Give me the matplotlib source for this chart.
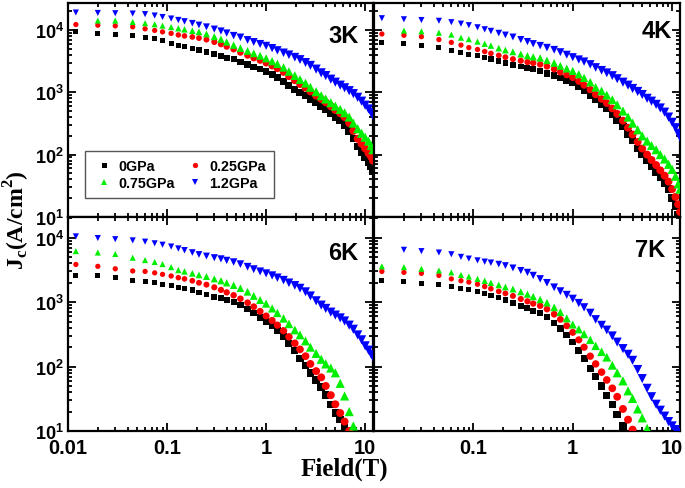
import numpy as np
import matplotlib
matplotlib.use("Agg")
import matplotlib.pyplot as plt
from matplotlib.ticker import LogLocator, FuncFormatter, NullFormatter
from matplotlib.lines import Line2D

plt.rcParams['mathtext.fontset'] = 'custom'
plt.rcParams['mathtext.rm'] = 'Liberation Serif:bold'
plt.rcParams['mathtext.bf'] = 'Liberation Sans:bold'
plt.rcParams['font.family'] = ['Liberation Sans', 'DejaVu Sans']

nan = np.nan

# Magnetic field (T) grid
field = [0.012, 0.02, 0.03, 0.045, 0.06, 0.075, 0.09, 0.11, 0.13, 0.15, 0.18, 0.21, 0.25, 0.3, 0.35,
         0.4, 0.47, 0.55, 0.65, 0.75, 0.87, 1.0, 1.15, 1.3, 1.5, 1.7, 1.95, 2.2, 2.5, 2.8, 3.2, 3.6,
         4.0, 4.5, 5.0, 5.6, 6.2, 6.9, 7.6, 8.4, 9.2, 10.0, 10.8, 11.5, 12.0]

temps = ['3K', '4K', '6K', '7K']
pressures = ['0GPa', '0.25GPa', '0.75GPa', '1.2GPa']

# ---- 3K ----
jc_3K_0GPa = [9300, 8600, 8300, 8200, 7600, 7200, 6700, 6100, 5700, 5400, 5000, 4750, 4450, 4100, 3800,
              3600, 3400, 3100, 2800, 2550, 2350, 2150, 1900, 1700, 1500, 1280, 1120, 1000, 880, 780, 680, 600,
              530, 460, 400, 360, 300, 240, 180, 135, 110, 90, 75, 64, 55]
jc_3K_025GPa = [12200, 11900, 11600, 11200, 10400, 9800, 9300, 8800, 8300, 8000, 7700, 7400, 7000, 6400, 5900,
                5400, 4900, 4350, 3900, 3550, 3250, 2950, 2650, 2400, 2100, 1800, 1550, 1350, 1180, 1030, 880, 780,
                690, 600, 520, 460, 400, 320, 240, 180, 150, 125, 105, 92, 80]
jc_3K_075GPa = [nan, 14100, 14100, 13400, 12800, 12300, 11700, 11100, 10600, 10200, 9700, 9300, 8600, 7800, 7100,
                6400, 5700, 5100, 4600, 4200, 3850, 3500, 3150, 2850, 2500, 2150, 1850, 1600, 1400, 1200, 1020, 880,
                780, 680, 600, 530, 470, 400, 320, 260, 220, 190, 165, 140, 120]
jc_3K_12GPa = [19000, 18700, 18500, 18300, 17900, 17000, 16100, 15200, 14400, 13700, 12800, 12000, 11200, 10300, 9600,
               8900, 8100, 7600, 6900, 6400, 5950, 5550, 5100, 4700, 4300, 4000, 3650, 3350, 3000, 2700, 2350, 2050,
               1850, 1620, 1450, 1300, 1180, 1060, 950, 830, 720, 620, 540, 470, 420]

# ---- 4K ----
jc_4K_0GPa = [6300, 6000, 5700, 5250, 4700, 4400, 4100, 3850, 3600, 3400, 3150, 2950, 2720, 2580, 2450,
              2320, 2200, 2000, 1850, 1700, 1560, 1440, 1250, 1080, 900, 760, 650, 560, 450, 360, 280, 215,
              170, 125, 100, 80, 65, 52, 43, 35, 28, 20, 15, 11, 9]
jc_4K_025GPa = [8600, 8200, 7800, 7000, 6300, 5700, 5200, 4850, 4500, 4200, 3900, 3650, 3400, 3200, 3050,
                2950, 2800, 2600, 2350, 2100, 1900, 1720, 1500, 1300, 1100, 920, 780, 670, 550, 450, 350, 270,
                210, 160, 125, 100, 82, 68, 56, 46, 37, 28, 21, 16, 12]
jc_4K_075GPa = [nan, 9750, 9500, 9000, 8400, 7500, 7100, 6500, 6000, 5600, 5100, 4750, 4450, 4100, 3850,
                3700, 3550, 3250, 2950, 2650, 2400, 2200, 1950, 1700, 1450, 1200, 1050, 900, 760, 630, 500, 400,
                320, 250, 200, 165, 140, 120, 100, 85, 70, 58, 45, 34, 28]
jc_4K_12GPa = [15400, 14800, 14400, 14000, 13300, 12600, 11900, 11000, 10200, 9600, 8900, 8300, 7700, 7000, 6500,
               6000, 5600, 5200, 4800, 4400, 4000, 3650, 3350, 3100, 2800, 2500, 2250, 2050, 1850, 1650, 1450, 1300,
               1150, 1030, 920, 800, 720, 640, 560, 480, 400, 330, 270, 220, 190]

# ---- 6K ----
jc_6K_0GPa = [2600, 2550, 2400, 2200, 2130, 2030, 1900, 1800, 1700, 1620, 1550, 1420, 1310, 1220, 1150,
              1080, 1000, 900, 780, 680, 580, 500, 430, 360, 290, 230, 180, 135, 105, 80, 62, 48,
              36, 26, 19, 15, 12, 9.5, nan, nan, nan, nan, nan, nan, nan]
jc_6K_025GPa = [3850, 3600, 3300, 3050, 3000, 2850, 2700, 2550, 2400, 2300, 2150, 2000, 1870, 1700, 1550,
                1420, 1280, 1130, 980, 850, 720, 610, 520, 440, 360, 290, 230, 185, 145, 110, 85, 68,
                50, 36, 26, 19, 14, 10, nan, nan, nan, nan, nan, nan, nan]
jc_6K_075GPa = [6200, 5900, 5600, 4900, 4500, 4200, 3900, 3500, 3150, 3000, 2800, 2650, 2500, 2300, 2150,
                2000, 1830, 1650, 1450, 1250, 1080, 950, 800, 680, 560, 460, 370, 310, 250, 200, 160, 130,
                110, 95, 80, 55, 35, 20, 12, 8, nan, nan, nan, nan, nan]
jc_6K_12GPa = [10500, 9900, 9500, 9100, 8700, 8200, 7800, 7300, 6800, 6400, 5900, 5500, 5200, 4900, 4700,
               4450, 4200, 3900, 3550, 3250, 3000, 2800, 2600, 2400, 2200, 2000, 1820, 1650, 1450, 1250, 1050, 900,
               800, 700, 630, 570, 510, 440, 380, 310, 260, 210, 180, 155, 140]

# ---- 7K ----
jc_7K_0GPa = [2200, 2100, 1980, 1850, 1750, 1650, 1560, 1480, 1370, 1270, 1170, 1080, 980, 880, 800,
              740, 680, 590, 480, 390, 310, 240, 180, 135, 95, 70, 50, 36, 26, 18, 12, 9,
              nan, nan, nan, nan, nan, nan, nan, nan, nan, nan, nan, nan, nan]
jc_7K_025GPa = [3000, 2900, 2800, 2600, 2300, 2150, 2050, 1900, 1750, 1620, 1470, 1370, 1250, 1120, 1030,
                950, 880, 780, 650, 540, 430, 340, 260, 200, 145, 110, 82, 62, 46, 34, 22, 15,
                10.5, nan, nan, nan, nan, nan, nan, nan, nan, nan, nan, nan, nan]
jc_7K_075GPa = [3600, 3500, 3300, 3100, 2900, 2650, 2500, 2300, 2150, 2000, 1850, 1720, 1600, 1450, 1330,
                1220, 1100, 980, 830, 700, 560, 450, 380, 320, 260, 210, 170, 140, 105, 80, 60, 42,
                32, 22, 16, 11, 8.5, nan, nan, nan, nan, nan, nan, nan, nan]
jc_7K_12GPa = [nan, 6500, 6200, 5900, 5550, 5050, 4750, 4450, 4250, 4100, 3900, 3700, 3400, 3100, 2900,
               2600, 2300, 2000, 1700, 1480, 1300, 1130, 970, 830, 680, 540, 440, 370, 300, 240, 190, 155,
               125, 90, 65, 46, 34, 26, 21, 17, 14, 12, 10.5, 9.5, nan]

panel_data = {
    '3K': [jc_3K_0GPa, jc_3K_025GPa, jc_3K_075GPa, jc_3K_12GPa],
    '4K': [jc_4K_0GPa, jc_4K_025GPa, jc_4K_075GPa, jc_4K_12GPa],
    '6K': [jc_6K_0GPa, jc_6K_025GPa, jc_6K_075GPa, jc_6K_12GPa],
    '7K': [jc_7K_0GPa, jc_7K_025GPa, jc_7K_075GPa, jc_7K_12GPa],
}

colors = ['#000000', '#FF0000', '#00EE00', '#0000FF']
markers = ['s', 'o', '^', 'v']
base_ms = [3.6, 3.8, 4.4, 4.4]

# marker size grows where the measured points are dense (style only)
lf = np.log10(np.array(field))
grow = np.interp(lf, [-1.0, 0.5], [1.0, 1.5])

W, H = 685, 489
fig = plt.figure(figsize=(W / 100, H / 100), dpi=100)

def rect(x0, y0, x1, y1):
    return [x0 / W, 1 - y1 / H, (x1 - x0) / W, (y1 - y0) / H]

positions = {
    '3K': rect(68, 4, 373, 218),
    '4K': rect(374, 4, 680, 218),
    '6K': rect(68, 218, 373, 432),
    '7K': rect(374, 218, 680, 432),
}
ylims = {'3K': (10, 27000), '4K': (10, 27000), '6K': (10, 21000), '7K': (10, 21000)}
label_pos = {'3K': (0.952, 0.902), '4K': (0.972, 0.925), '6K': (0.952, 0.888), '7K': (0.952, 0.90)}

def pow_fmt(v, pos):
    e = int(round(np.log10(v)))
    return r'$\mathbf{10^{%d}}$' % e

def x_fmt(v, pos):
    return {0.01: '0.01', 0.1: '0.1', 1: '1', 10: '10'}.get(round(v, 3), '')

def x_fmt_right(v, pos):
    return '' if round(v, 3) == 0.01 else x_fmt(v, pos)

axes = {}
for t in temps:
    ax = fig.add_axes(positions[t])
    axes[t] = ax
    for i in range(4):
        sizes = (base_ms[i] * grow) ** 2
        ax.scatter(field, panel_data[t][i], marker=markers[i], color=colors[i],
                   s=sizes, linewidths=0, zorder=2 + i)
    ax.set_xscale('log')
    ax.set_yscale('log')
    ax.set_xlim(0.01, 12)
    ax.set_ylim(*ylims[t])
    ax.xaxis.set_major_locator(LogLocator(base=10, numticks=10))
    ax.xaxis.set_minor_locator(LogLocator(base=10, subs=np.arange(2, 10), numticks=20))
    ax.yaxis.set_major_locator(LogLocator(base=10, numticks=10))
    ax.yaxis.set_minor_locator(LogLocator(base=10, subs=np.arange(2, 10), numticks=20))
    ax.tick_params(which='both', direction='in', top=True, right=True, width=1.3)
    ax.tick_params(which='major', length=5.5)
    ax.tick_params(which='minor', length=3)
    ax.tick_params(axis='y', labelsize=13, pad=3)
    ax.tick_params(axis='x', labelsize=14.5, pad=5)
    for s in ax.spines.values():
        s.set_linewidth(1.6)
    ax.yaxis.set_minor_formatter(NullFormatter())
    ax.xaxis.set_minor_formatter(NullFormatter())
    if t in ('3K', '6K'):
        ax.yaxis.set_major_formatter(FuncFormatter(pow_fmt))
    else:
        ax.tick_params(labelleft=False)
    if t == '6K':
        ax.xaxis.set_major_formatter(FuncFormatter(x_fmt))
    elif t == '7K':
        ax.xaxis.set_major_formatter(FuncFormatter(x_fmt_right))
    else:
        ax.tick_params(labelbottom=False)
    lx, ly = label_pos[t]
    ax.text(lx, ly, t, transform=ax.transAxes, ha='right', va='top',
            fontsize=17, fontweight='bold', zorder=10)

for t in ('6K', '7K'):
    for lab in axes[t].get_xticklabels():
        lab.set_fontweight('bold')

# Legend in the 3K panel (row-major order)
ax3 = axes['3K']
handles = [Line2D([], [], linestyle='none', marker=markers[i], color=colors[i],
                  markersize=base_ms[i], markeredgewidth=0) for i in range(4)]
order = [0, 2, 1, 3]
leg = ax3.legend([handles[k] for k in order], [pressures[k] for k in order], ncol=2, loc='lower left',
                 bbox_to_anchor=(0.056, 0.089), borderaxespad=0, fancybox=False, framealpha=1,
                 edgecolor='#555555', prop={'weight': 'bold', 'size': 10.3}, handlelength=1.5,
                 handletextpad=0.3, columnspacing=0.6, borderpad=0.55, labelspacing=0.2)
leg.get_frame().set_linewidth(1.0)
leg.set_zorder(20)

fig.text(0.025, 0.55, r'J$_\mathrm{c}$(A/cm$^\mathrm{2}$)', rotation=90, ha='center', va='center',
         fontsize=17, fontfamily='Liberation Serif', fontweight='bold')
fig.text(0.503, 0.04, 'Field(T)', ha='center', va='center', fontsize=18,
         fontfamily='Liberation Serif', fontweight='bold')

fig.savefig('out.png', dpi=100)
